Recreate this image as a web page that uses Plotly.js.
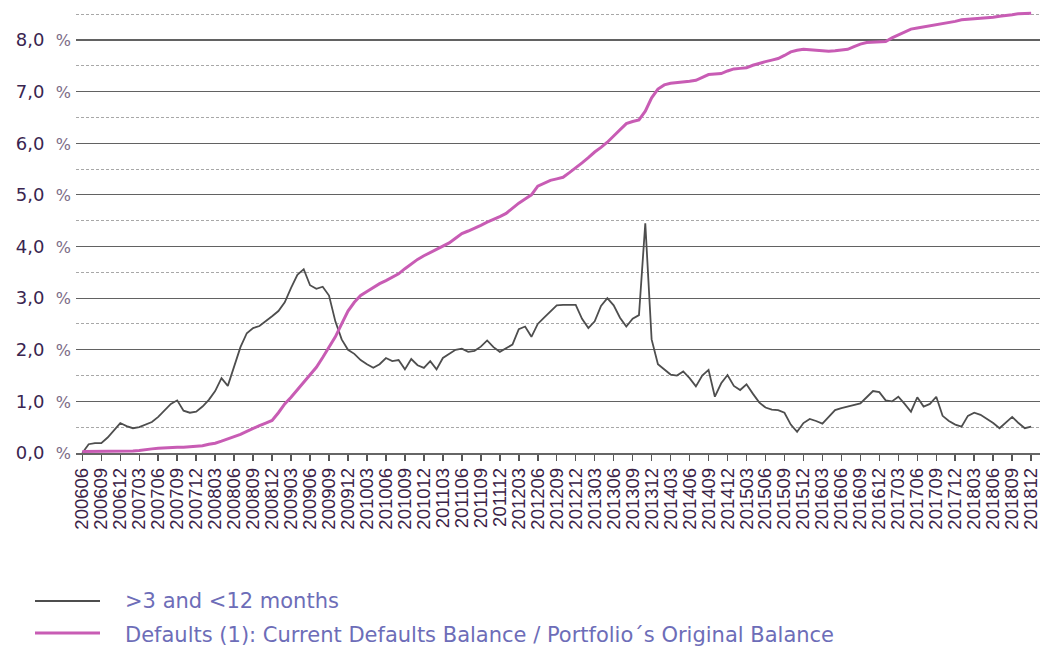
<!DOCTYPE html>
<html>
<head>
<meta charset="utf-8">
<script src="https://cdn.plot.ly/plotly-3.0.1.min.js"></script>
<style>html,body{margin:0;padding:0;background:#fff;}#chart{width:1040px;height:650px;}</style>
</head>
<body>
<div id="chart"></div>
<script>
// Monthly categories 200606 .. 201812
const months = [];
(function(){ let y = 2006, m = 6; while (months.length < 151) { months.push(String(y) + (m < 10 ? '0' + m : String(m))); m++; if (m > 12) { m = 1; y++; } } })();

const tickLabels = ['200606','200609','200612',
 '200703','200706','200709','200712','200803','200806','200809','200812',
 '200903','200906','200909','200912','201003','201006','201009','201012',
 '201103','201106','201109','201112','201203','201206','201209','201212',
 '201303','201306','201309','201312','201403','201406','201409','201412',
 '201503','201506','201509','201512','201603','201606','201609','201612',
 '201703','201706','201709','201712','201803','201806','201809','201812'];

const seriesNames = ['>3 and <12 months', 'Defaults (1): Current Defaults Balance / Portfolio´s Original Balance'];

// >3 and <12 months arrears (%)
const arrears3to12 = [
 0.00,0.17,0.19,0.19,0.30,0.45,0.58,0.52,0.48,0.50,
 0.55,0.60,0.70,0.82,0.95,1.02,0.82,0.78,0.80,0.90,
 1.03,1.20,1.45,1.30,1.70,2.05,2.32,2.42,2.46,2.55,
 2.65,2.75,2.92,3.20,3.45,3.56,3.25,3.18,3.22,3.05,
 2.55,2.20,2.00,1.92,1.80,1.72,1.65,1.72,1.84,1.78,
 1.80,1.62,1.82,1.70,1.65,1.78,1.62,1.84,1.92,2.00,
 2.02,1.96,1.98,2.06,2.18,2.05,1.96,2.03,2.10,2.40,
 2.45,2.25,2.50,2.62,2.75,2.86,2.87,2.87,2.87,2.60,
 2.42,2.55,2.85,3.00,2.86,2.62,2.45,2.60,2.67,4.45,
 2.20,1.72,1.62,1.52,1.50,1.58,1.45,1.29,1.50,1.61,
 1.09,1.35,1.51,1.30,1.22,1.33,1.15,0.98,0.88,0.84,
 0.83,0.78,0.55,0.41,0.58,0.66,0.62,0.57,0.70,0.83,
 0.87,0.90,0.93,0.96,1.08,1.20,1.18,1.02,1.00,1.09,
 0.95,0.80,1.08,0.90,0.95,1.09,0.72,0.62,0.55,0.51,
 0.72,0.78,0.74,0.66,0.58,0.48,0.60,0.70,0.58,0.48,
 0.51];

// Cumulative defaults / original balance (%)
const defaultsRatio = [
 0.03,0.03,0.03,0.03,0.03,0.03,0.03,0.03,0.04,0.05,
 0.07,0.08,0.09,0.10,0.10,0.11,0.11,0.12,0.12,0.14,
 0.17,0.19,0.23,0.27,0.31,0.36,0.42,0.48,0.53,0.58,
 0.63,0.78,0.95,1.08,1.22,1.36,1.50,1.66,1.85,2.05,
 2.25,2.50,2.75,2.92,3.05,3.13,3.21,3.28,3.34,3.41,
 3.47,3.57,3.66,3.75,3.82,3.88,3.94,4.00,4.07,4.16,
 4.25,4.30,4.35,4.41,4.47,4.52,4.58,4.64,4.74,4.84,
 4.92,5.00,5.17,5.23,5.28,5.31,5.34,5.43,5.52,5.62,
 5.72,5.83,5.92,6.02,6.14,6.26,6.38,6.42,6.45,6.62,
 6.88,7.05,7.13,7.16,7.17,7.18,7.20,7.22,7.27,7.33,
 7.34,7.35,7.40,7.44,7.45,7.46,7.51,7.55,7.58,7.61,
 7.64,7.70,7.77,7.80,7.82,7.81,7.80,7.78,7.78,7.79,
 7.81,7.82,7.87,7.92,7.95,7.96,7.97,7.97,8.04,8.10,
 8.16,8.21,8.23,8.25,8.27,8.29,8.31,8.33,8.36,8.39,
 8.40,8.41,8.42,8.42,8.44,8.46,8.47,8.49,8.51,8.51,
 8.52];

const yMajor = [0,1,2,3,4,5,6,7,8];
const yMinor = [0.5,1.5,2.5,3.5,4.5,5.5,6.5,7.5,8.5];
const yTickText = yMajor.map(v => '<span style="color:#3a2550">' + v.toFixed(1).replace('.', ',') + '</span>  <span style="font-size:16px;color:#7c6c86">%</span>');

const colBlack = '#4e4e4e';
const colPink = '#c85cb4';

const traces = [
  {x: months, y: arrears3to12, type: 'scatter', mode: 'lines', name: seriesNames[0],
   line: {color: colBlack, width: 1.8}, showlegend: false},
  {x: months, y: defaultsRatio, type: 'scatter', mode: 'lines', name: seriesNames[1],
   line: {color: colPink, width: 3}, showlegend: false}
];

// Manual legend (line samples + labels) in paper coordinates
const plotL = 76, plotW = 964, plotT = 9, plotH = 444;
const px = x => (x - plotL) / plotW;
const py = y => (plotT + plotH - y) / plotH;

const layout = {
  width: 1040, height: 650,
  margin: {l: plotL, r: 0, t: plotT, b: 650 - plotT - plotH},
  paper_bgcolor: '#ffffff', plot_bgcolor: '#ffffff',
  showlegend: false,
  xaxis: {
    type: 'category', range: [-1, 151.4],
    tickmode: 'array', tickvals: tickLabels, ticktext: tickLabels,
    tickangle: -90, ticks: 'outside', ticklen: 6, tickcolor: '#555', tickwidth: 1.5,
    tickfont: {family: 'Liberation Sans, Arial, sans-serif', size: 18.5, color: '#3b2347'},
    showgrid: false, showline: true, linecolor: '#666', linewidth: 1.5,
    zeroline: false, fixedrange: true
  },
  yaxis: {
    range: [0, 8.6],
    tickmode: 'array', tickvals: yMajor, ticktext: yTickText,
    tickfont: {family: 'DejaVu Sans, sans-serif', size: 18, color: '#3a2550'},
    ticks: '', ticklabelstandoff: 4,
    showgrid: true, gridcolor: '#626262', gridwidth: 1.2,
    minor: {tickvals: yMinor, showgrid: true, gridcolor: '#a8a8a8', gridwidth: 1, griddash: '3px,2px', ticks: ''},
    zeroline: false, showline: false, fixedrange: true
  },
  shapes: [
    {type: 'line', xref: 'paper', yref: 'paper', x0: px(35), x1: px(100), y0: py(601), y1: py(601),
     line: {color: colBlack, width: 2}},
    {type: 'line', xref: 'paper', yref: 'paper', x0: px(35), x1: px(100), y0: py(633), y1: py(633),
     line: {color: colPink, width: 3}}
  ],
  annotations: [
    {xref: 'paper', yref: 'paper', x: px(123), y: py(601), xanchor: 'left', yanchor: 'middle', showarrow: false,
     text: '&gt;3 and &lt;12 months',
     font: {family: 'DejaVu Sans, sans-serif', size: 21, color: '#6d6db8'}},
    {xref: 'paper', yref: 'paper', x: px(123), y: py(635), xanchor: 'left', yanchor: 'middle', showarrow: false,
     text: 'Defaults (1): Current Defaults Balance / Portfolio´s Original Balance',
     font: {family: 'DejaVu Sans, sans-serif', size: 21, color: '#6d6db8'}}
  ]
};

Plotly.newPlot('chart', traces, layout, {displayModeBar: false, staticPlot: true});
</script>
</body>
</html>
